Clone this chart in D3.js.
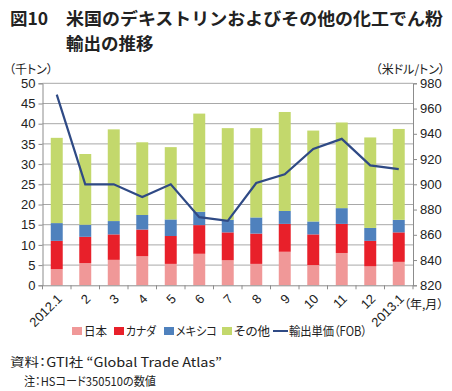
<!DOCTYPE html>
<html><head><meta charset="utf-8">
<script src="https://cdn.jsdelivr.net/npm/d3@7/dist/d3.min.js"></script>
<style>
body{margin:0;background:#fff;}
svg{display:block;font-family:"Noto Sans CJK JP","Liberation Sans",sans-serif;}
.p{font-feature-settings:"palt" 1;}
</style></head><body>
<svg id="c" width="452" height="391"></svg>
<script>
const categories = ["2012.1","2","3","4","5","6","7","8","9","10","11","12","2013.1"];
const japan  = [4.0,5.5,6.3,7.2,5.3,7.8,6.2,5.3,8.3,5.0,8.0,4.7,5.8];
const canada = [7.0,6.5,6.3,6.6,6.9,7.1,6.9,7.5,6.9,7.6,7.2,6.3,7.3];
const mexico = [4.4,3.0,3.3,3.6,4.1,3.3,3.1,4.0,3.2,3.2,3.9,3.2,3.1];
const other  = [21.1,17.5,22.7,18.0,17.9,24.3,22.7,22.1,24.5,22.5,21.2,22.4,22.5];
const price  = [971,900,900,890,900,874,871,901,908,928,936,915,912];
const seriesNames = ["日本","カナダ","メキシコ","その他"];
const lineName = "輸出単価（FOB）";
const leftTicks = [0,5,10,15,20,25,30,35,40,45,50];
const rightTicks = [820,840,860,880,900,920,940,960,980];

const colors = ["#f09898","#e8202a","#4f81bd","#c3d86c"];
const lineColor = "#2f4a85";

const svg = d3.select("#c");
const L = 42.5, R = 413, T = 83.3, B = 285.3;

const x = d3.scaleBand().domain(categories).range([L, R]).paddingInner(0.58).paddingOuter(0.29);
const y = d3.scaleLinear().domain([0,50]).range([B, T]);
const y2 = d3.scaleLinear().domain([820,980]).range([B, T]);

// title
const title = svg.append("g").attr("font-weight", "bold").attr("font-size", 17.5).attr("fill", "#222");
title.append("text").attr("x", 10).attr("y", 25).text("図10");
title.append("text").attr("x", 66).attr("y", 25).attr("textLength", 377).attr("lengthAdjust","spacingAndGlyphs").text("米国のデキストリンおよびその他の化工でん粉");
title.append("text").attr("x", 66).attr("y", 50).text("輸出の推移");

// gridlines
svg.append("g").selectAll("line").data(leftTicks.filter(d=>d>0)).join("line")
  .attr("x1", L).attr("x2", R).attr("y1", d=>y(d)).attr("y2", d=>y(d))
  .attr("stroke", "#a8a8a8").attr("stroke-width", 1);

// stacked bars
const stackData = categories.map((c,i)=>({c, v:[japan[i],canada[i],mexico[i],other[i]]}));
const stack = d3.stack().keys([0,1,2,3]).value((d,k)=>d.v[k]);
const layers = stack(stackData);
svg.append("g").selectAll("g").data(layers).join("g")
  .attr("fill", (d,i)=>colors[i])
  .selectAll("rect").data(d=>d).join("rect")
  .attr("x", d=>x(d.data.c)).attr("width", x.bandwidth())
  .attr("y", d=>y(d[1])).attr("height", d=>y(d[0])-y(d[1]));

// axes
const axisColor = "#8c8c8c";
const gl = svg.append("g").attr("transform", `translate(${L},0)`)
  .call(d3.axisLeft(y).tickValues(leftTicks).tickSize(4).tickPadding(3));
const gr = svg.append("g").attr("transform", `translate(${R},0)`)
  .call(d3.axisRight(y2).tickValues(rightTicks).tickSize(4).tickPadding(3));
const gb = svg.append("g").attr("transform", `translate(0,${B})`)
  .call(d3.axisBottom(x).tickSize(0).tickFormat(""));
[gl,gr,gb].forEach(g=>{
  g.selectAll("path").attr("stroke", axisColor).attr("stroke-width",1);
  g.selectAll("line").attr("stroke", axisColor);
  g.selectAll("text").attr("font-family","'Liberation Sans',Arial,sans-serif").attr("font-size", 13).attr("fill","#222");
});
// category boundary ticks
const bounds = d3.range(categories.length+1).map(i=>L + i*(R-L)/categories.length);
svg.append("g").selectAll("line").data(bounds).join("line")
  .attr("x1", d=>d).attr("x2", d=>d).attr("y1", B).attr("y2", B+4)
  .attr("stroke", axisColor);

// x labels
svg.append("g").selectAll("text").data(categories).join("text")
  .attr("transform", d=>`translate(${x(d)+x.bandwidth()/2+3},${B+11}) rotate(-45)`)
  .attr("text-anchor","end").attr("dy","0.35em")
  .attr("font-family","'Liberation Sans',Arial,sans-serif").attr("font-size", 13).attr("fill","#222")
  .text(d=>d);

// line
svg.append("path").datum(price)
  .attr("d", d3.line().x((d,i)=>x(categories[i])+x.bandwidth()/2).y(d=>y2(d)))
  .attr("fill","none").attr("stroke", lineColor).attr("stroke-width", 2.2);

// axis titles
svg.append("text").attr("class","p").attr("x", 9).attr("y", 74).attr("font-size", 12).attr("fill","#222").text("（千トン）");
svg.append("text").attr("class","p").attr("x", 445).attr("y", 74).attr("text-anchor","end").attr("font-size", 12).attr("fill","#222").text("（米ドル/トン）");
svg.append("text").attr("class","p").attr("x", 404).attr("y", 309).attr("font-size", 12).attr("fill","#222").text("（年,月）");

// legend
const lg = svg.append("g").attr("class","p").attr("font-size", 12.5).attr("fill","#222");
const legendX = [72,114,164,222];
const legendW = [23,30,41,36];
seriesNames.forEach((n,i)=>{
  lg.append("rect").attr("x", legendX[i]).attr("y", 327).attr("width", 10).attr("height", 8).attr("fill", colors[i]);
  lg.append("text").attr("x", legendX[i]+12).attr("y", 336).attr("textLength", legendW[i]).attr("lengthAdjust","spacingAndGlyphs").text(n);
});
lg.append("line").attr("x1", 273).attr("x2", 288).attr("y1", 331).attr("y2", 331).attr("stroke", lineColor).attr("stroke-width", 2);
lg.append("text").attr("x", 289).attr("y", 336).attr("textLength", 78).attr("lengthAdjust","spacingAndGlyphs").text(lineName);

// notes
const nt = svg.append("g").attr("class","p").attr("font-size", 12.5).attr("fill","#222");
nt.append("text").attr("x", 10).attr("y", 367).attr("textLength", 212).attr("lengthAdjust","spacingAndGlyphs").text("資料：GTI社 “Global Trade Atlas”");
nt.append("text").attr("x", 24).attr("y", 386).attr("font-size", 12).attr("textLength", 132).attr("lengthAdjust","spacingAndGlyphs").text("注：HSコード350510の数値");
</script>
</body></html>
